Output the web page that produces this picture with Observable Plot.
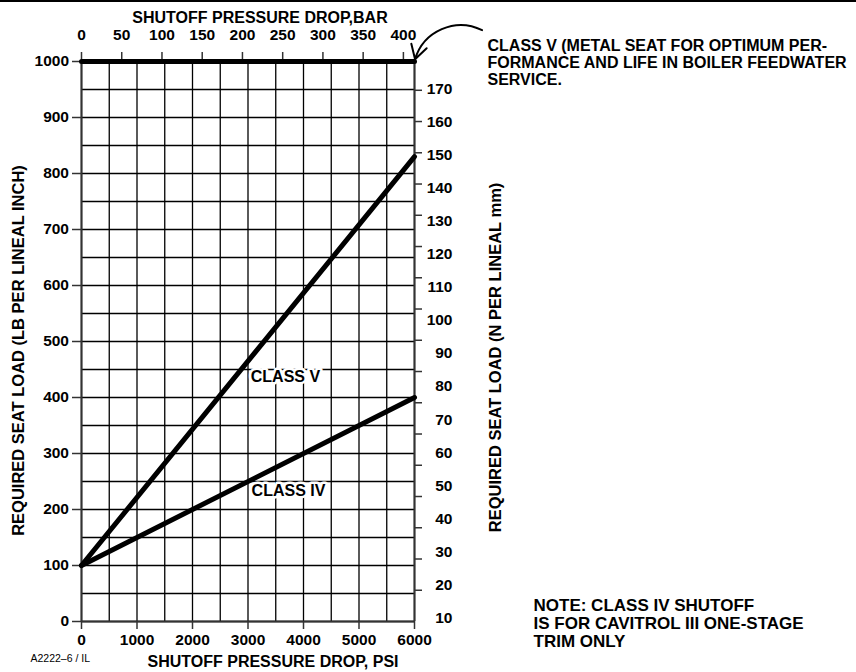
<!DOCTYPE html>
<html>
<head>
<meta charset="utf-8">
<script src="https://cdn.jsdelivr.net/npm/d3@7"></script>
<script src="https://cdn.jsdelivr.net/npm/@observablehq/plot@0.6"></script>
<style>
  html, body { margin: 0; padding: 0; background: #fff; }
  #topbar { position: absolute; left: 0; top: 0; width: 856px; height: 2px; background: #000; }
  #chart { position: absolute; left: 0; top: 0; }
</style>
</head>
<body>
<div id="chart"></div>
<div id="topbar"></div>
<script>
// ---- data ----
const psi = [0, 6000];                 // shutoff pressure drop, psi
const classV = [100, 830];             // required seat load, lb per lineal inch
const classIV = [100, 400];
const classVMetal = [1000, 1000];
const loadTicks = [0, 100, 200, 300, 400, 500, 600, 700, 800, 900, 1000];
const psiTicks = [0, 1000, 2000, 3000, 4000, 5000, 6000];
const barTicks = [0, 50, 100, 150, 200, 250, 300, 350, 400];
const nmmTicks = [10, 20, 30, 40, 50, 60, 70, 80, 90, 100, 110, 120, 130, 140, 150, 160, 170];
const PSI_PER_BAR = 14.5;
const LB_PER_NMM_TICK = 5.58;          // tick spacing of the right axis as drawn
const nmmLabelLoad = r => 6.6 + (r - 10) * 5.9; // label placement of the right axis as drawn

const seriesNames = ["CLASS V", "CLASS IV", "CLASS V METAL"];
const seriesValues = [classV, classIV, classVMetal];
const lines = seriesNames.flatMap((name, i) => psi.map((p, j) => ({series: name, psi: p, load: seriesValues[i][j]})));

const curveLabels = [
  {text: "CLASS V", psi: 3675, load: 437},
  {text: "CLASS IV", psi: 3730, load: 233}
];

const font = "'Liberation Sans', Arial, Helvetica, sans-serif";
const axisStroke = "#333";
const FS = 16;
const TFS = 15.5;

const chart = Plot.plot({
  width: 856,
  height: 672,
  marginLeft: 81,
  marginRight: 442,
  marginTop: 61,
  marginBottom: 51,
  style: {fontFamily: font, fontSize: TFS + "px", fontWeight: "bold", color: "#000", background: "#fff"},
  x: {domain: [0, 6000]},
  y: {domain: [0, 1000]},
  marks: [
    Plot.gridX({ticks: d3.range(0, 6001, 500), stroke: "#000", strokeOpacity: 1, strokeWidth: 1.3}),
    Plot.gridY({ticks: d3.range(0, 1001, 50), stroke: "#000", strokeOpacity: 1, strokeWidth: 1.3}),
    Plot.ruleX([0, 6000], {stroke: axisStroke, strokeWidth: 2}),
    Plot.ruleY([0], {stroke: axisStroke, strokeWidth: 2}),
    // left axis
    Plot.axisY({anchor: "left", ticks: loadTicks, tickSize: 9, tickPadding: 3.5, label: null,
      tickFormat: d => String(d), stroke: axisStroke, strokeWidth: 1.5, fontSize: TFS, fontWeight: "bold"}),
    // bottom axis
    Plot.axisX({anchor: "bottom", ticks: psiTicks, tickSize: 8, tickPadding: 4.5, label: null,
      tickFormat: d => String(d), stroke: axisStroke, strokeWidth: 1.5, fontSize: TFS, fontWeight: "bold"}),
    // top axis (bar)
    Plot.axisX({anchor: "top", ticks: barTicks.map(b => b * PSI_PER_BAR), tickSize: 10, tickPadding: 12,
      tickFormat: v => String(Math.round(v / PSI_PER_BAR)), label: null,
      stroke: axisStroke, strokeWidth: 1.5, fontSize: TFS, fontWeight: "bold"}),
    // right axis (N/mm) ticks
    Plot.axisY({anchor: "right", ticks: nmmTicks.map(r => r * LB_PER_NMM_TICK), tickSize: 7, tickPadding: 0,
      tickFormat: () => "", label: null, stroke: axisStroke, strokeWidth: 1.5}),
    // right axis labels
    Plot.text(nmmTicks, {x: 6000, y: nmmLabelLoad, text: d => String(d), textAnchor: "end", dx: 38,
      fontSize: TFS, fontWeight: "bold", fill: "#000"}),
    // series lines
    Plot.line(lines, {x: "psi", y: "load", z: "series", stroke: "#000", strokeWidth: 5, strokeLinecap: "round"}),
    // curve labels
    Plot.text(curveLabels, {x: "psi", y: "load", text: "text", fill: "#000", stroke: "#fff", strokeWidth: 5,
      paintOrder: "stroke", fontSize: FS, fontWeight: "bold"}),
    // axis titles
    Plot.text(["SHUTOFF PRESSURE DROP,BAR"], {frameAnchor: "top", textAnchor: "middle", lineAnchor: "middle",
      dx: 12, dy: -44, fontSize: FS, fontWeight: "bold", fill: "#000"}),
    Plot.text(["SHUTOFF PRESSURE DROP, PSI"], {frameAnchor: "bottom", textAnchor: "middle", lineAnchor: "middle",
      dx: 25, dy: 40, fontSize: FS, fontWeight: "bold", fill: "#000"}),
    Plot.text(["REQUIRED SEAT LOAD (LB PER LINEAL INCH)"], {frameAnchor: "left", textAnchor: "middle", lineAnchor: "middle",
      rotate: -90, dx: -63, dy: 9, fontSize: 16.5, fontWeight: "bold", fill: "#000"}),
    Plot.text(["REQUIRED SEAT LOAD (N PER LINEAL mm)"], {frameAnchor: "right", textAnchor: "middle", lineAnchor: "middle",
      rotate: -90, dx: 81, dy: 16, fontSize: 16.5, fontWeight: "bold", fill: "#000"}),
    Plot.text(["A2222–6 / IL"], {frameAnchor: "bottom-left", textAnchor: "start", lineAnchor: "middle",
      dx: -51, dy: 37, fontSize: 10.5, fontWeight: "normal", fill: "#000"}),
    // annotations
    Plot.text(["CLASS V (METAL SEAT FOR OPTIMUM PER-\nFORMANCE AND LIFE IN BOILER FEEDWATER\nSERVICE."],
      {x: 6000, y: 1000, textAnchor: "start", lineAnchor: "top", dx: 73, dy: -22, lineHeight: 1.04,
       fontSize: FS, fontWeight: "bold", fill: "#000"}),
    Plot.text(["NOTE: CLASS IV SHUTOFF\nIS FOR CAVITROL III ONE-STAGE\nTRIM ONLY"],
      {x: 6000, y: 0, textAnchor: "start", lineAnchor: "top", dx: 119, dy: -23, lineHeight: 1.05,
       fontSize: 17, fontWeight: "bold", fill: "#000"}),
    Plot.arrow([{x1: 7218, y1: 1056, x2: 6010, y2: 1004}], {x1: "x1", y1: "y1", x2: "x2", y2: "y2",
      bend: -50, stroke: "#000", strokeWidth: 2, headLength: 12})
  ]
});
document.getElementById("chart").appendChild(chart);
</script>
</body>
</html>
